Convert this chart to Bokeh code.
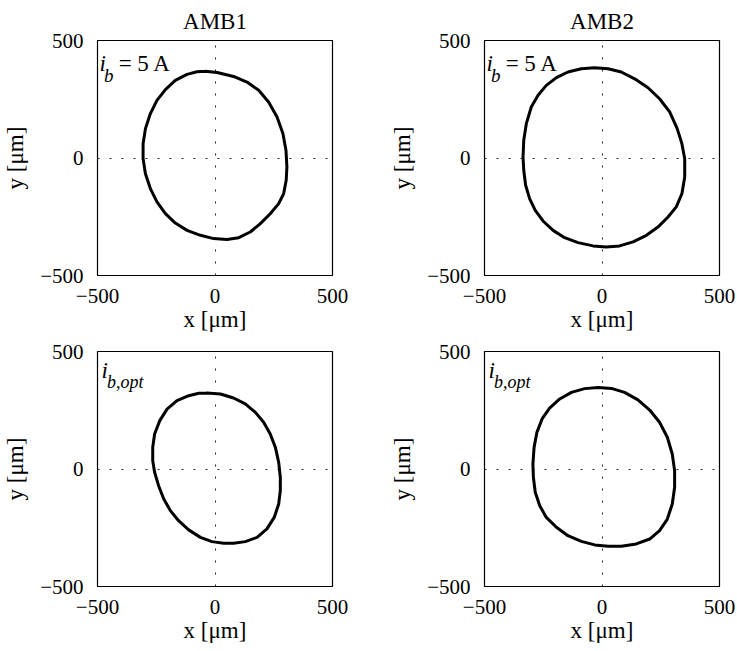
from bokeh.plotting import figure
from bokeh.models import FixedTicker, Label
from bokeh.layouts import column, row
from bokeh.embed import file_html
from bokeh.resources import INLINE

# ---- data (in µm) ----
titles = ["AMB1", "AMB2"]
ticks = [-500, 0, 500]
tick_labels = ["\u2212500", "0", "500"]

amb1_5A_x = [-41, 9, 79, 136, 186, 228, 264, 289, 302, 306, 303, 292, 271, 235, 193, 150, 101, 51,
             -6, -62, -119, -169, -211, -247, -275, -296, -306, -306, -296, -275, -247, -211, -169, -119, -77]
amb1_5A_y = [369, 364, 347, 323, 288, 238, 174, 104, 33, -38, -95, -152, -194, -237, -279, -315, -339, -347,
             -343, -329, -308, -277, -237, -187, -130, -67, -3, 61, 125, 189, 245, 291, 330, 356, 367]

amb2_5A_x = [-31, 26, 82, 139, 196, 245, 288, 320, 340, 352, 352, 340, 316, 281, 238, 189, 132, 75, 18,
             -38, -102, -159, -208, -251, -284, -308, -325, -333, -336, -333, -322, -301, -272, -237, -194, -145, -88]
amb2_5A_y = [384, 380, 366, 337, 299, 252, 196, 125, 61, -3, -81, -152, -208, -251, -294, -329, -357, -374, -379,
             -374, -360, -339, -308, -268, -223, -173, -116, -52, 4, 75, 146, 217, 267, 309, 342, 366, 380]

amb1_opt_x = [-34, 23, 79, 129, 172, 207, 235, 257, 271, 278, 278, 271, 252, 221, 179, 129, 79, 37,
              -13, -62, -112, -155, -190, -218, -240, -257, -265, -265, -257, -235, -204, -162, -112, -69]
amb1_opt_y = [323, 319, 302, 277, 241, 199, 149, 92, 28, -35, -92, -149, -206, -255, -291, -309, -316, -316,
              -309, -291, -259, -220, -177, -128, -71, -14, 35, 92, 149, 206, 255, 291, 312, 322]

amb2_opt_x = [-17, 40, 96, 153, 203, 245, 278, 299, 309, 309, 299, 278, 245, 203, 146, 82, 26,
              -31, -88, -145, -194, -237, -265, -284, -292, -294, -289, -277, -255, -223, -180, -130, -74]
amb2_opt_y = [347, 343, 326, 294, 251, 199, 135, 64, -7, -78, -149, -213, -262, -298, -319, -329, -329,
              -323, -308, -284, -248, -206, -156, -99, -35, 21, 92, 156, 213, 259, 298, 326, 342]

FONT = "Liberation Serif"


def make_panel(xs, ys, title, sub, top_row, left_col):
    width = 370 if left_col else 367
    height = 337 if top_row else 314
    p = figure(
        width=width, height=height,
        x_range=(-500, 500), y_range=(-500, 500),
        output_backend="svg", toolbar_location=None,
        title=title,
        min_border_left=97 if left_col else 114,
        min_border_right=38 if left_col else 18,
        min_border_top=40 if top_row else 14,
        min_border_bottom=62 if top_row else 65,
        background_fill_color="white", border_fill_color="white",
    )
    if title is not None:
        p.title.align = "center"
        p.title.text_font = FONT
        p.title.text_font_size = "23px"
        p.title.text_font_style = "normal"
        p.title.text_color = "black"
        p.title.standoff = 13

    p.outline_line_color = "black"
    p.outline_line_width = 1.2

    for ax, lab in ((p.xaxis, "x [\u03bcm]"), (p.yaxis, "y [\u03bcm]")):
        ax.ticker = FixedTicker(ticks=ticks)
        ax.major_label_overrides = dict(zip(ticks, tick_labels))
        ax.axis_label = lab
        ax.axis_label_text_font = FONT
        ax.axis_label_text_font_size = "23px"
        ax.axis_label_text_font_style = "normal"
        ax.axis_label_text_color = "black"
        ax.major_label_text_font = FONT
        ax.major_label_text_font_size = "21px"
        ax.major_label_text_color = "black"
        ax.axis_line_color = None
        ax.major_tick_line_color = None
        ax.minor_tick_line_color = None
    p.xaxis.major_label_standoff = 7
    p.yaxis.major_label_standoff = 8
    p.xaxis.axis_label_standoff = 1
    p.yaxis.axis_label_standoff = 9
    p.yaxis.major_label_orientation = "horizontal"

    for g in (p.xgrid, p.ygrid):
        g.ticker = FixedTicker(ticks=[0])
        g.grid_line_color = "black"
        g.grid_line_alpha = 0.85
        g.grid_line_width = 1
        g.grid_line_dash = "2 10"

    p.line(xs + xs[:1], ys + ys[:1], line_color="black", line_width=3,
           line_join="round", line_cap="round")

    if top_row:
        p.add_layout(Label(x=-491, y=402, text="i", text_font=FONT, text_font_size="23px",
                           text_font_style="italic", text_baseline="alphabetic", text_color="black"))
        p.add_layout(Label(x=-472, y=351, text=sub, text_font=FONT, text_font_size="19px",
                           text_font_style="italic", text_baseline="alphabetic", text_color="black"))
        p.add_layout(Label(x=-410, y=402, text="= 5 A", text_font=FONT, text_font_size="23px",
                           text_baseline="alphabetic", text_color="black"))
    else:
        p.add_layout(Label(x=-483, y=419, text="i", text_font=FONT, text_font_size="23px",
                           text_font_style="italic", text_baseline="alphabetic", text_color="black"))
        p.add_layout(Label(x=-460, y=372, text=sub, text_font=FONT, text_font_size="18px",
                           text_font_style="italic", text_baseline="alphabetic", text_color="black"))
    return p


p1 = make_panel(amb1_5A_x, amb1_5A_y, titles[0], "b", True, True)
p2 = make_panel(amb2_5A_x, amb2_5A_y, titles[1], "b", True, False)
p3 = make_panel(amb1_opt_x, amb1_opt_y, None, "b,opt", False, True)
p4 = make_panel(amb2_opt_x, amb2_opt_y, None, "b,opt", False, False)

layout = column(row(p1, p2), row(p3, p4))

open("out.html", "w").write(file_html(layout, INLINE))
